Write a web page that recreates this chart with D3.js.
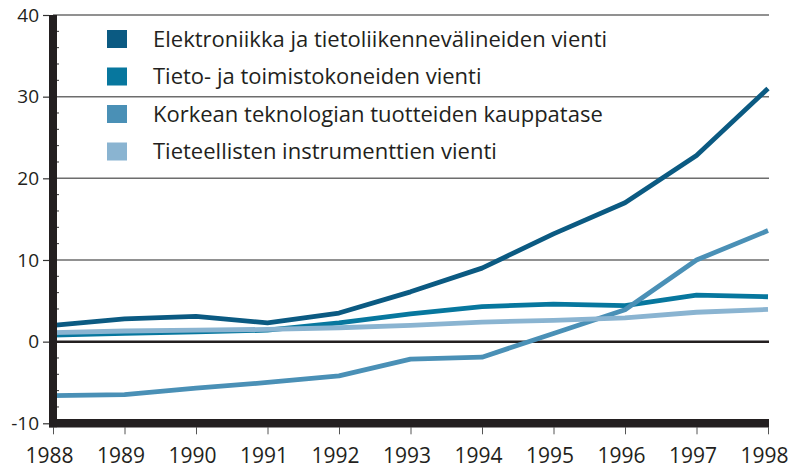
<!DOCTYPE html>
<html><head><meta charset="utf-8">
<script src="https://cdn.jsdelivr.net/npm/d3@7"></script>
<style>
html,body{margin:0;padding:0;background:#fff;}
svg{display:block;font-family:"Open Sans",sans-serif;}
</style></head>
<body><svg id="c" width="792" height="469"></svg>
<script>
const years = [1988,1989,1990,1991,1992,1993,1994,1995,1996,1997,1998];
const seriesNames = [
  "Elektroniikka ja tietoliikennevälineiden vienti",
  "Tieto- ja toimistokoneiden vienti",
  "Korkean teknologian tuotteiden kauppatase",
  "Tieteellisten instrumenttien vienti"
];
const elektroniikka = [2.0, 2.8, 3.1, 2.3, 3.5, 6.1, 9.0, 13.2, 17.0, 22.8, 31.0];
const tietokoneet   = [0.8, 1.0, 1.2, 1.4, 2.3, 3.4, 4.3, 4.6, 4.4, 5.7, 5.5];
const kauppatase    = [-6.6, -6.5, -5.7, -5.0, -4.2, -2.15, -1.9, 1.0, 3.9, 10.0, 13.6];
const instrumentit  = [1.1, 1.3, 1.4, 1.5, 1.7, 2.0, 2.4, 2.6, 2.9, 3.6, 3.95];
const colors = ["#0b5a82", "#07779e", "#4a90b6", "#8ab4d1"];
const yMajor = [-10, 0, 10, 20, 30, 40];
const yMinor = d3.range(-10, 40.1, 2);

const allSeries = [elektroniikka, tietokoneet, kauppatase, instrumentit];

const svg = d3.select("#c");
const x = d3.scaleLinear().domain([1988, 1998]).range([53, 768]);
const y = d3.scaleLinear().domain([-10, 40]).range([423.3, 15]);

// gridlines
svg.append("g").selectAll("line").data(yMajor.filter(v => v > -10)).join("line")
  .attr("x1", x(1988)).attr("x2", x(1998)+1)
  .attr("y1", d => y(d)).attr("y2", d => y(d))
  .attr("stroke", d => d === 0 ? "#231f20" : "#6d6d6d")
  .attr("stroke-width", d => d === 0 ? 2.5 : 1.5);

// minor ticks inside
svg.append("g").selectAll("line").data(yMinor.filter(v => v % 10 !== 0)).join("line")
  .attr("x1", x(1988)+3).attr("x2", x(1988)+6)
  .attr("y1", d => y(d)).attr("y2", d => y(d))
  .attr("stroke", "#333").attr("stroke-width", 1);

// x axis
const xAxis = d3.axisBottom(x).tickValues(years).tickFormat(d3.format("d")).tickSize(7).tickPadding(14);
const gx = svg.append("g").attr("transform", `translate(0,${y(-10)+4})`).call(xAxis);
gx.select(".domain").remove();
gx.selectAll(".tick line").attr("stroke", "#555").attr("stroke-width", 1);
gx.selectAll(".tick text").attr("font-size", 21).attr("fill", "#231f20").attr("dx", -4)
  .attr("font-family", "Open Sans, sans-serif");

// y axis
const yAxis = d3.axisLeft(y).tickValues(yMajor).tickFormat(d => d < 0 ? "-" + Math.abs(d) : d).tickSize(6).tickPadding(4);
const gy = svg.append("g").attr("transform", `translate(${x(1988)-4},0)`).call(yAxis);
gy.select(".domain").remove();
gy.selectAll(".tick line").attr("stroke", "#333").attr("stroke-width", 1.2);
gy.selectAll(".tick text").attr("font-size", 19).attr("fill", "#231f20")
  .attr("font-family", "Open Sans, sans-serif");

// lines
const line = d3.line().x((d, i) => x(years[i])).y(d => y(d));
svg.append("g").selectAll("path").data(allSeries).join("path")
  .attr("d", d => line(d))
  .attr("fill", "none")
  .attr("stroke", (d, i) => colors[i])
  .attr("stroke-width", 4.8)
  .attr("stroke-linejoin", "round");

// thick axis bars
svg.append("line").attr("x1", x(1988)).attr("x2", x(1988))
  .attr("y1", y(40)).attr("y2", y(-10)+4).attr("stroke", "#231f20").attr("stroke-width", 8);
svg.append("line").attr("x1", x(1988)-4).attr("x2", x(1998)+1)
  .attr("y1", y(-10)).attr("y2", y(-10)).attr("stroke", "#231f20").attr("stroke-width", 8.5);

// legend
const lg = svg.append("g");
const rows = lg.selectAll("g").data(seriesNames).join("g")
  .attr("transform", (d, i) => `translate(107,${39 + i*37.5})`);
rows.append("rect").attr("x", 0).attr("y", -9).attr("width", 20).attr("height", 18)
  .attr("fill", (d, i) => colors[i]);
rows.append("text").attr("x", 46).attr("y", 0).attr("dy", "0.36em")
  .attr("font-size", 22).attr("fill", "#231f20").text(d => d);
</script>
</body></html>
